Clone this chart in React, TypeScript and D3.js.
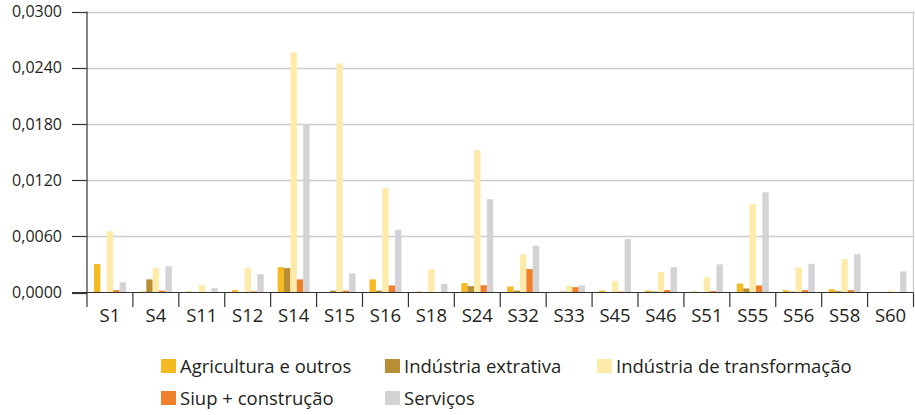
import React from "react";
import * as d3 from "d3";

const categories = ["S1","S4","S11","S12","S14","S15","S16","S18","S24","S32","S33","S45","S46","S51","S55","S56","S58","S60"];
const seriesNames = ["Agricultura e outros","Indústria extrativa","Indústria de transformação","Siup + construção","Serviços"];
const seriesColors = ["#F5B923","#B98D33","#FEEBA9","#F07F2B","#D3D3D5"];

const agricultura = [0.00303,0.0001,0.0001,0.00025,0.0027,0.00005,0.0014,0.0001,0.001,0.00064,0.00003,0.0002,0.0002,0.0001,0.00096,0.00025,0.00035,0.00005];
const extrativa   = [0.0,0.0014,0.00005,0.0,0.0026,0.0002,0.0002,0.00005,0.00068,0.0002,0.0001,0.00003,0.0001,0.00005,0.00043,0.0001,0.00015,0.00005];
const transformacao = [0.00655,0.0026,0.0008,0.0026,0.02564,0.02446,0.01114,0.00246,0.0152,0.00407,0.00075,0.00124,0.00218,0.00164,0.00946,0.00268,0.00357,0.0002];
const siup        = [0.00025,0.0002,0.00005,0.00012,0.0014,0.0002,0.00075,0.00003,0.00078,0.0025,0.00057,0.0001,0.00025,0.00015,0.00075,0.00025,0.00025,0.0];
const servicos    = [0.00108,0.0028,0.00046,0.00196,0.018,0.00204,0.0067,0.00092,0.00996,0.005,0.00075,0.0057,0.0027,0.003,0.0107,0.00306,0.0041,0.00225];

const yTicks = [0, 0.006, 0.012, 0.018, 0.024, 0.03];

const W = 915, H = 415;
const left = 87, right = 913.5, top = 11.5, bottom = 292.5;
const FONT = "'Open Sans', sans-serif";
const TXT = "#231F20";

export default function App() {
  const seriesData = [agricultura, extrativa, transformacao, siup, servicos];
  const x0 = d3.scaleBand<string>().domain(categories).range([left, right]).padding(0);
  const bw = x0.bandwidth();
  const x1 = d3.scaleBand<string>().domain(seriesNames).range([bw * 0.152, bw * 0.848]).padding(0);
  const y = d3.scaleLinear().domain([0, 0.03]).range([bottom, top]);
  const fmt = (v: number) => v.toFixed(4).replace(".", ",");

  const legendPos = [
    { x: 161, y: 359 }, { x: 385, y: 359 }, { x: 597, y: 359 },
    { x: 161, y: 391 }, { x: 385, y: 391 },
  ];

  return (
    <svg width={W} height={H} style={{ position: "absolute", left: 0, top: 0 }} fontFamily={FONT}>
      {yTicks.slice(1).map((t) => (
        <line key={"g" + t} x1={left} x2={right} y1={Math.round(y(t)) + 0.5} y2={Math.round(y(t)) + 0.5} stroke="#CCCCCC" strokeWidth={1.3} />
      ))}
      <line x1={right} x2={right} y1={top} y2={bottom} stroke="#CCCCCC" strokeWidth={1.3} />
      {categories.map((c, i) => (
        <g key={c}>
          {seriesNames.map((s, j) => {
            const v = seriesData[j][i];
            const yy = y(Math.max(0, v));
            const h = Math.abs(y(v) - y(0));
            return (
              <rect key={s} x={(x0(c) as number) + (x1(s) as number)} y={v >= 0 ? yy : y(0)} width={x1.bandwidth()} height={h} fill={seriesColors[j]} />
            );
          })}
        </g>
      ))}
      <line x1={left} x2={left} y1={top} y2={bottom} stroke="#333333" strokeWidth={1.2} />
      <line x1={72} x2={right} y1={bottom} y2={bottom} stroke="#333333" strokeWidth={1.2} />
      {yTicks.map((t) => (
        <g key={"t" + t}>
          <line x1={72} x2={left} y1={Math.round(y(t)) + 0.5} y2={Math.round(y(t)) + 0.5} stroke="#333333" strokeWidth={1.2} />
          <text x={62} y={y(t)} dy="0.36em" textAnchor="end" fontSize={16} fill={TXT}>{fmt(t)}</text>
        </g>
      ))}
      {categories.map((c) => (
        <line key={"xt" + c} x1={(x0(c) as number)} x2={(x0(c) as number)} y1={bottom} y2={307} stroke="#333333" strokeWidth={1.2} />
      ))}
      <line x1={right} x2={right} y1={bottom} y2={307} stroke="#333333" strokeWidth={1.2} />
      {categories.map((c) => (
        <text key={"xl" + c} x={(x0(c) as number) + bw / 2} y={322} textAnchor="middle" fontSize={18.5} fill={TXT}>{c}</text>
      ))}
      {seriesNames.map((s, j) => (
        <g key={"lg" + s}>
          <rect x={legendPos[j].x} y={legendPos[j].y} width={15} height={14} fill={seriesColors[j]} />
          <text x={legendPos[j].x + 19} y={legendPos[j].y + 13.5} fontSize={18.5} fill={TXT}>{s}</text>
        </g>
      ))}
    </svg>
  );
}
